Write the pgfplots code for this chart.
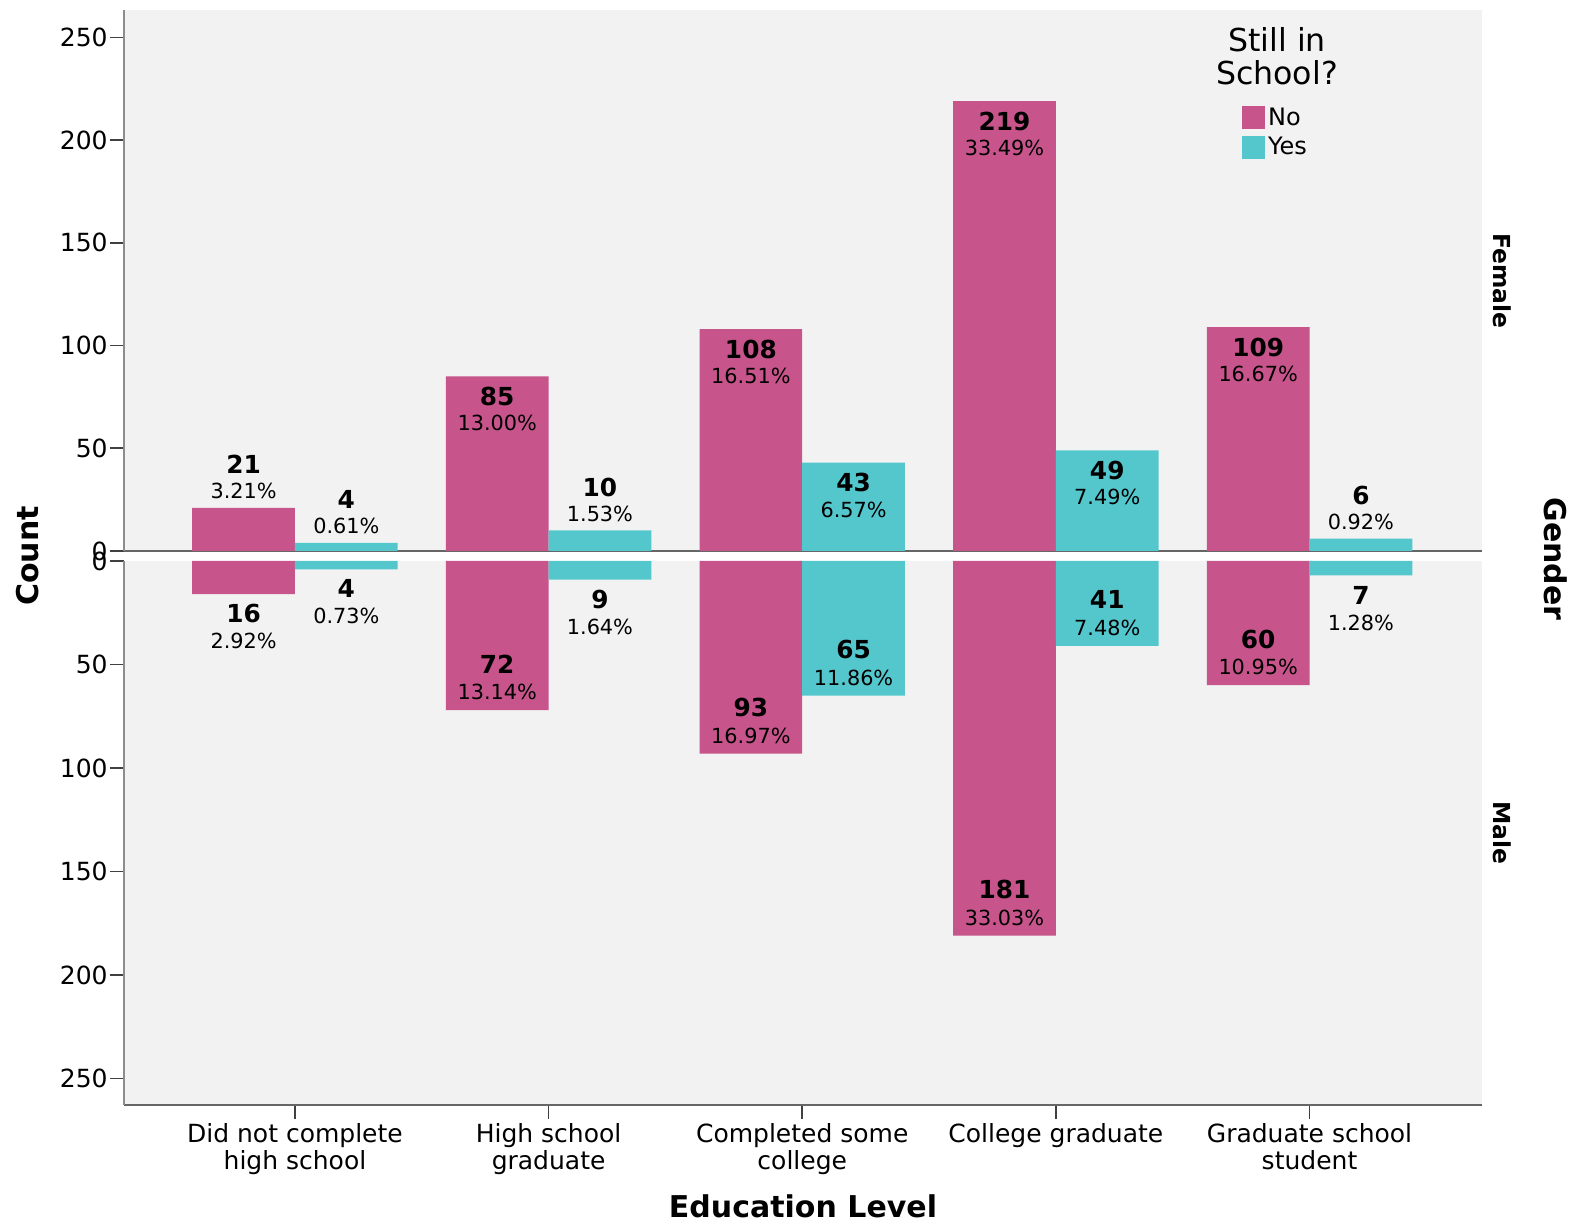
\documentclass[border=0pt]{standalone}
\usepackage{fontspec}
\setmainfont{DejaVu Sans}
\usepackage{pgfplots}
\pgfplotsset{compat=1.18}
\definecolor{pinkc}{HTML}{C7558B}
\definecolor{tealc}{HTML}{54C7CD}
\definecolor{bgc}{HTML}{F2F2F2}
\definecolor{axc}{HTML}{8C8C8C}
\newcommand{\numf}{\fontsize{12.4}{14}\selectfont\bfseries}
\newcommand{\pctf}{\fontsize{10.4}{12}\selectfont}
\newcommand{\lbl}[6]{%
  \node[font=\numf,yshift=#5] at (axis cs:#1,#2) {#3};
  \node[font=\pctf,yshift=#6] at (axis cs:#1,#2) {#4};}
\newcommand{\tout}[4]{\lbl{#1}{#2}{#3}{#4}{21.7pt}{8.3pt}}
\newcommand{\tin}[4]{\lbl{#1}{#2}{#3}{#4}{-10pt}{-23.5pt}}
\newcommand{\bout}[4]{\lbl{#1}{#2}{#3}{#4}{-9.75pt}{-23.5pt}}
\newcommand{\bin}[4]{\lbl{#1}{#2}{#3}{#4}{23pt}{9pt}}
\pgfplotsset{
  common/.style={
    scale only axis, width=679pt,
    xmin=-0.674, xmax=4.68,
    axis background/.style={fill=bgc},
    axis lines=left,
    x axis line style={draw=black!60, line width=0.9pt, -},
    y axis line style={draw=axc, line width=0.9pt, -},
    tick align=outside,
    major tick length=7pt,
    tick style={draw=black!75, line width=0.8pt},
    yticklabel style={font=\fontsize{12.5}{14}\selectfont, inner sep=1pt},
  },
  sq legend/.style={legend image code/.code={\fill[##1] (0pt,-5.75pt) rectangle (11.75pt,5.75pt);}},
}
\begin{document}
\begin{tikzpicture}
\useasboundingbox (0,0) rectangle (789.5pt,613.5pt);
% Female (top) panel
\begin{axis}[common,
  at={(62pt,338pt)}, anchor=south west,
  height=270.5pt,
  ymin=0, ymax=263.3,
  xtick=\empty,
  ytick={0,50,100,150,200,250},
  yticklabels={0,50,100,150,200,250},
  legend style={at={(0.8227,0.826)}, anchor=north west, draw=none, fill=none,
    inner sep=0pt, font=\fontsize{12}{14}\selectfont, row sep=1.5pt,
    nodes={inner sep=1.5pt}},
  legend cell align=left,
]
\addplot[ybar, bar width=0.405, bar shift=0pt, fill=pinkc, draw=none, sq legend]
  coordinates {(-0.2025,21) (0.7975,85) (1.7975,108) (2.7975,219) (3.7975,109)};
\addlegendentry{No}
\addplot[ybar, bar width=0.405, bar shift=0pt, fill=tealc, draw=none, sq legend]
  coordinates {(0.2025,4) (1.2025,10) (2.2025,43) (3.2025,49) (4.2025,6)};
\addlegendentry{Yes}
\tout{-0.2025}{21}{21}{3.21\%}
\tout{0.2025}{4}{4}{0.61\%}
\tin{0.7975}{85}{85}{13.00\%}
\tout{1.2025}{10}{10}{1.53\%}
\tin{1.7975}{108}{108}{16.51\%}
\tin{2.2025}{43}{43}{6.57\%}
\tin{2.7975}{219}{219}{33.49\%}
\tin{3.2025}{49}{49}{7.49\%}
\tin{3.7975}{109}{109}{16.67\%}
\tout{4.2025}{6}{6}{0.92\%}
\end{axis}
% Male (bottom) panel
\begin{axis}[common,
  at={(62pt,333pt)}, anchor=north west,
  height=272pt,
  ymin=-262.8, ymax=0,
  xtick={0,1,2,3,4},
  xticklabels={{Did not complete\\high school},{High school\\graduate},{Completed some\\college},{College graduate},{Graduate school\\student}},
  xticklabel style={font=\fontsize{12.5}{13.5}\selectfont, align=center, inner sep=2pt},
  ytick={-250,-200,-150,-100,-50,0},
  yticklabels={250,200,150,100,50,0},
]
\addplot[ybar, bar width=0.405, bar shift=0pt, fill=pinkc, draw=none]
  coordinates {(-0.2025,-16) (0.7975,-72) (1.7975,-93) (2.7975,-181) (3.7975,-60)};
\addplot[ybar, bar width=0.405, bar shift=0pt, fill=tealc, draw=none]
  coordinates {(0.2025,-4) (1.2025,-9) (2.2025,-65) (3.2025,-41) (4.2025,-7)};
\bout{-0.2025}{-16}{16}{2.92\%}
\bout{0.2025}{-4}{4}{0.73\%}
\bin{0.7975}{-72}{72}{13.14\%}
\bout{1.2025}{-9}{9}{1.64\%}
\bin{1.7975}{-93}{93}{16.97\%}
\bin{2.2025}{-65}{65}{11.86\%}
\bin{2.7975}{-181}{181}{33.03\%}
\bin{3.2025}{-41}{41}{7.48\%}
\bin{3.7975}{-60}{60}{10.95\%}
\bout{4.2025}{-7}{7}{1.28\%}
\end{axis}
% titles
\node[font=\fontsize{15}{17}\selectfont\bfseries, rotate=90] at (14pt,335.5pt) {Count};
\node[font=\fontsize{15}{17}\selectfont\bfseries, rotate=-90] at (778pt,334pt) {Gender};
\node[font=\fontsize{11.7}{13}\selectfont\bfseries, rotate=-90] at (751pt,473pt) {Female};
\node[font=\fontsize{11.7}{13}\selectfont\bfseries, rotate=-90] at (751pt,197pt) {Male};
\node[font=\fontsize{15}{17}\selectfont\bfseries] at (401.5pt,10.2pt) {Education Level};
\node[font=\fontsize{15.8}{16.6}\selectfont, align=center] at (638.5pt,585.5pt) {Still in\\School?};
\end{tikzpicture}
\end{document}
